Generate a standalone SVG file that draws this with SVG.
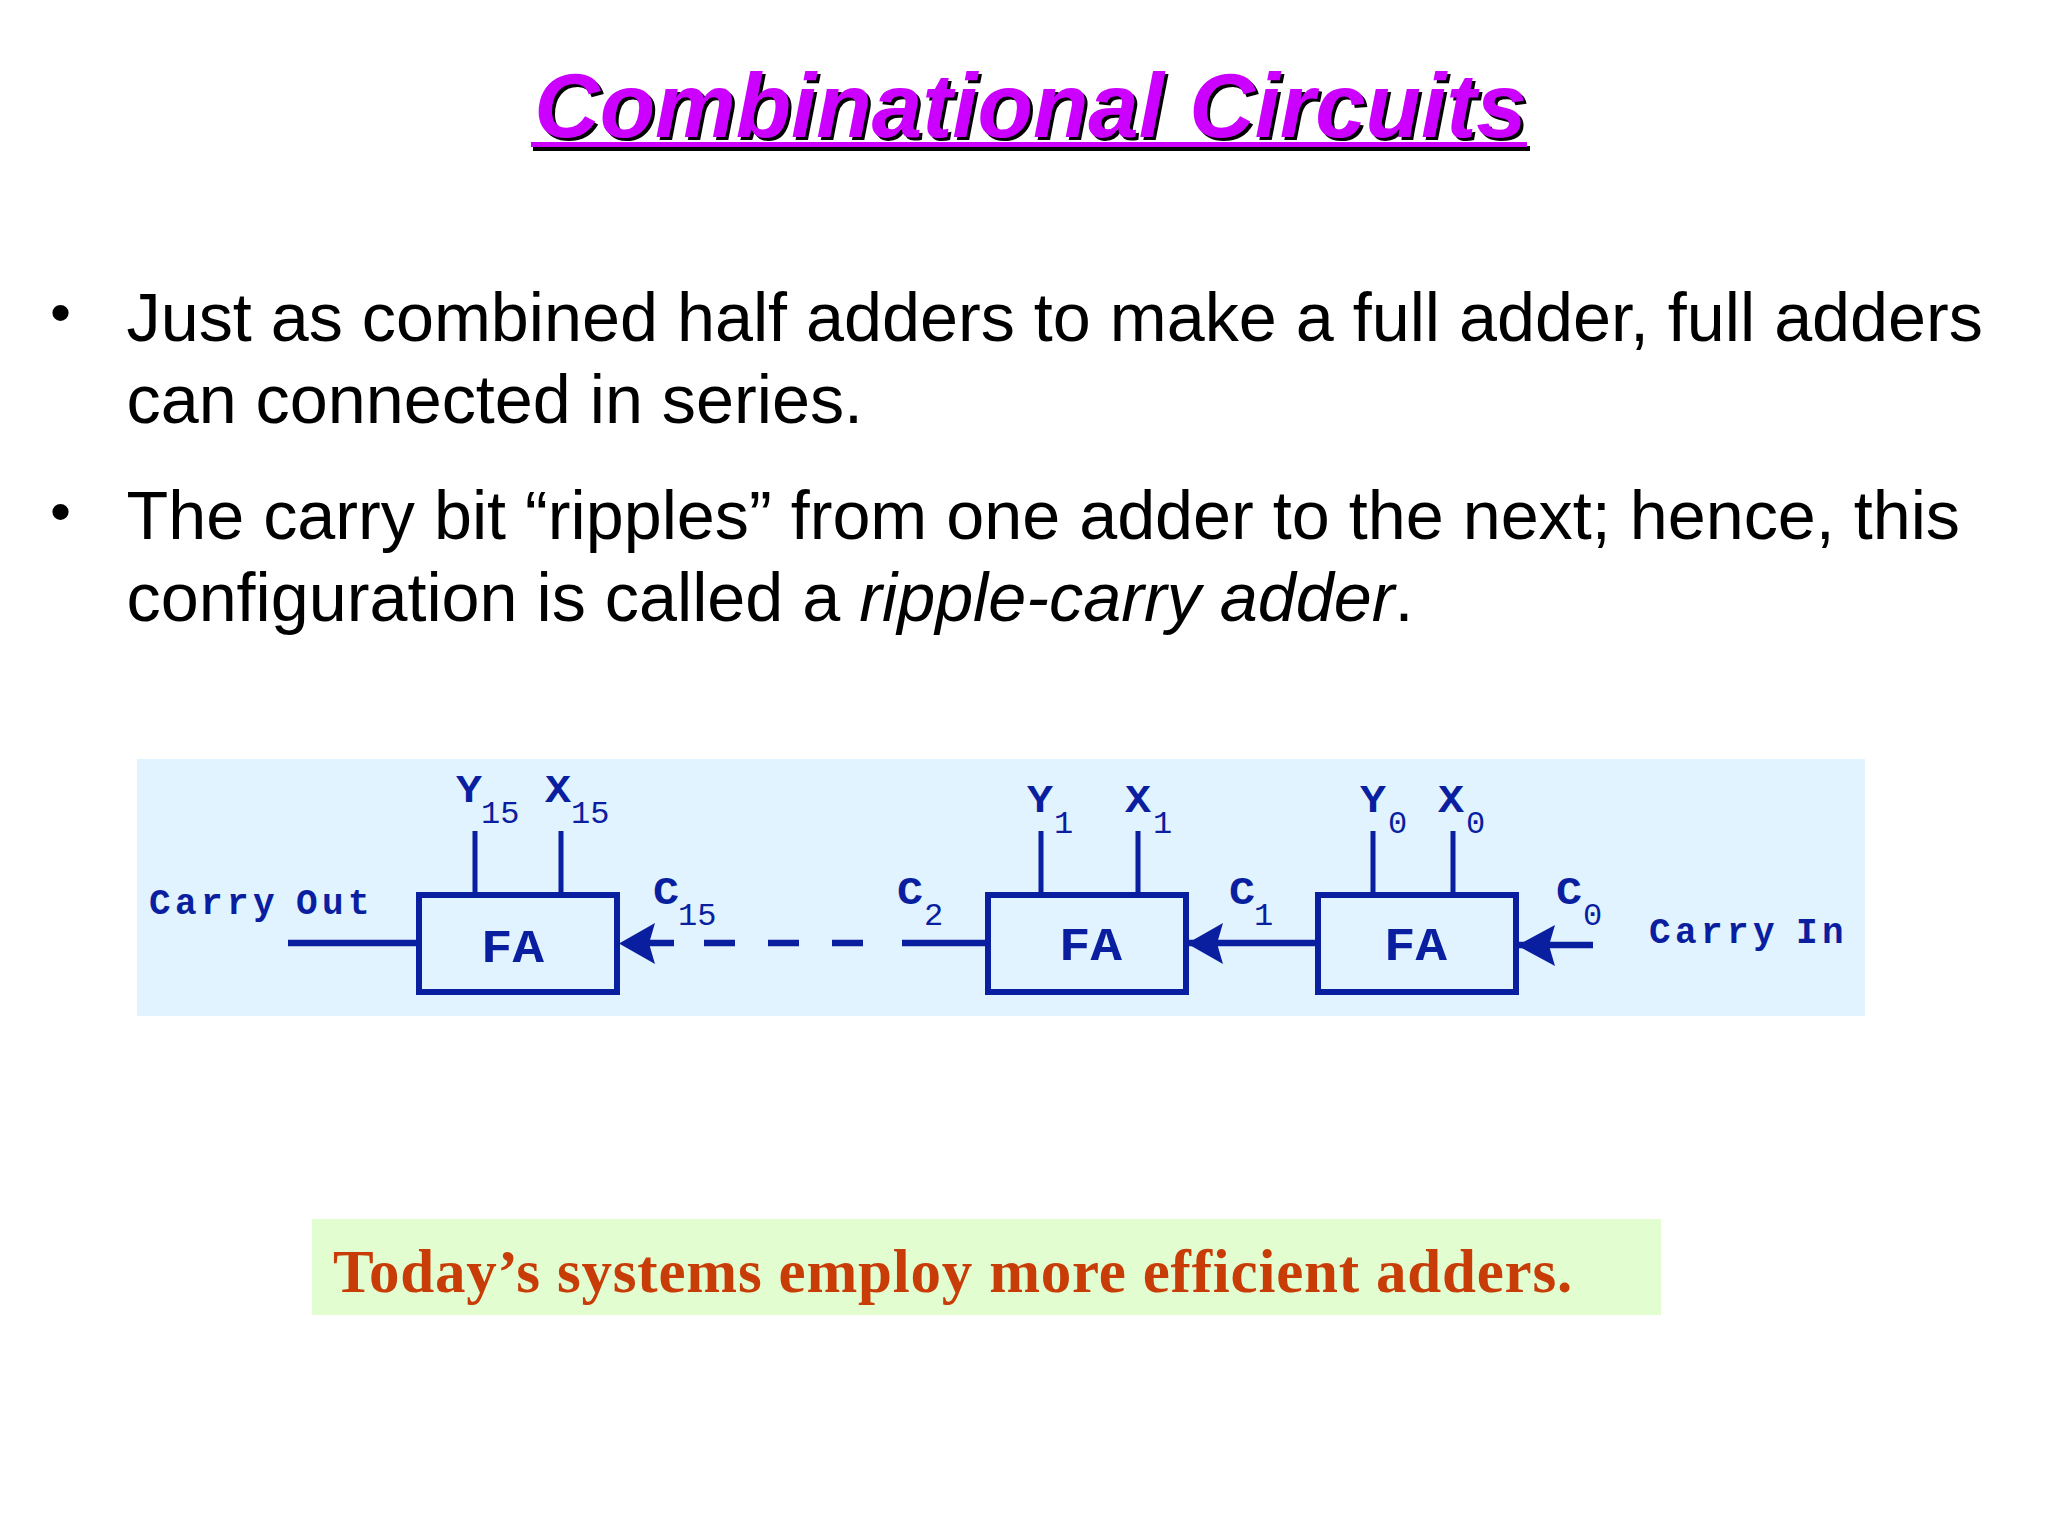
<svg xmlns="http://www.w3.org/2000/svg" width="2048" height="1536" viewBox="0 0 2048 1536">
<style>
.t{font-family:"Liberation Sans",Arial,sans-serif;font-size:68.3px;fill:#000}
.b{font-family:"Liberation Sans",Arial,sans-serif;font-size:60px;fill:#000}
.ti{font-family:"Liberation Sans",Arial,sans-serif;font-size:90.7px;font-weight:bold;font-style:italic}
.m{font-family:"Liberation Mono","Courier New",monospace;fill:#0a1fa0}
.l{font-size:38px;font-weight:bold}
.s{font-size:32px}
.c{font-size:36px;font-weight:bold;letter-spacing:4.4px;word-spacing:-9px}
.fa{font-size:47px;font-weight:bold}
.box{fill:none;stroke:#0a1fa0;stroke-width:6}
.v{stroke:#0a1fa0;stroke-width:5;fill:none}
.w{stroke:#0a1fa0;stroke-width:6.5;fill:none}
.ah{fill:#0a1fa0}
</style>
<rect width="2048" height="1536" fill="#fff"/>
<g id="title">
<text class="ti" x="1033.5" y="140" text-anchor="middle" fill="#000">Combinational Circuits</text>
<rect x="533" y="146" width="997" height="5" fill="#000"/>
<text class="ti" x="1030.5" y="137" text-anchor="middle" fill="#cc00ff">Combinational Circuits</text>
<rect x="531" y="142" width="996" height="5" fill="#cc00ff"/>
</g>
<g id="bullets">
<text class="b" x="50" y="333">•</text>
<text class="t" x="126.5" y="341">Just as combined half adders to make a full adder, full adders</text>
<text class="t" x="126.5" y="423">can connected in series.</text>
<text class="b" x="50" y="532">•</text>
<text class="t" x="126.5" y="539">The carry bit “ripples” from one adder to the next; hence, this</text>
<text class="t" x="126.5" y="621">configuration is called a <tspan font-style="italic">ripple-carry adder</tspan>.</text>
</g>
<rect id="panel" x="137" y="759" width="1728" height="257" fill="#e1f3fe"/>
<g id="connectors">
<path class="v" d="M475 831V895M561 831V895M1041 831V895M1138 831V895M1373 831V895M1453 831V895"/>
<path class="w" d="M288 943H418M902 943H987M1186 943H1317M1516 945H1593M645 943H674"/>
<path class="w" d="M704 943H735M768 943H799M832 943H863"/>
<path class="ah" d="M619 943.5L655 923L649 943.5L655 964Z"/>
<path class="ah" d="M1187 943.5L1223 923L1217 943.5L1223 964Z"/>
<path class="ah" d="M1517 945.5L1555 925L1549 945.5L1555 966Z"/>
</g>
<g id="fa15"><rect class="box" x="419" y="895" width="198" height="97"/><text class="m fa" x="481" y="962" textLength="63" lengthAdjust="spacingAndGlyphs">FA</text></g>
<g id="fa1"><rect class="box" x="988" y="895" width="198" height="97"/><text class="m fa" x="1059" y="960" textLength="63" lengthAdjust="spacingAndGlyphs">FA</text></g>
<g id="fa0"><rect class="box" x="1318" y="895" width="198" height="97"/><text class="m fa" x="1384" y="960" textLength="63" lengthAdjust="spacingAndGlyphs">FA</text></g>
<g id="labels">
<text class="m c" x="149" y="914">Carry Out</text>
<text class="m c" x="1649" y="943">Carry In</text>
<text class="m l" x="456" y="802" textLength="26" lengthAdjust="spacingAndGlyphs">Y</text><text class="m s" x="481" y="823">15</text>
<text class="m l" x="545" y="802" textLength="26" lengthAdjust="spacingAndGlyphs">X</text><text class="m s" x="571" y="823">15</text>
<text class="m l" x="653" y="904" textLength="26" lengthAdjust="spacingAndGlyphs">C</text><text class="m s" x="678" y="925">15</text>
<text class="m l" x="897" y="904" textLength="26" lengthAdjust="spacingAndGlyphs">C</text><text class="m s" x="924" y="925">2</text>
<text class="m l" x="1027" y="812" textLength="26" lengthAdjust="spacingAndGlyphs">Y</text><text class="m s" x="1054" y="833">1</text>
<text class="m l" x="1125" y="812" textLength="26" lengthAdjust="spacingAndGlyphs">X</text><text class="m s" x="1153" y="833">1</text>
<text class="m l" x="1229" y="904" textLength="26" lengthAdjust="spacingAndGlyphs">C</text><text class="m s" x="1254" y="925">1</text>
<text class="m l" x="1360" y="812" textLength="26" lengthAdjust="spacingAndGlyphs">Y</text><text class="m s" x="1388" y="833">0</text>
<text class="m l" x="1438" y="812" textLength="26" lengthAdjust="spacingAndGlyphs">X</text><text class="m s" x="1466" y="833">0</text>
<text class="m l" x="1556" y="904" textLength="26" lengthAdjust="spacingAndGlyphs">C</text><text class="m s" x="1583" y="925">0</text>
</g>
<g id="note">
<rect x="312" y="1219" width="1349" height="96" fill="#e2fdd0"/>
<text x="333" y="1292" font-family="Liberation Serif,Times New Roman,serif" font-size="61px" letter-spacing="0.8" font-weight="bold" fill="#c83c08">Today’s systems employ more efficient adders.</text>
</g>
</svg>
